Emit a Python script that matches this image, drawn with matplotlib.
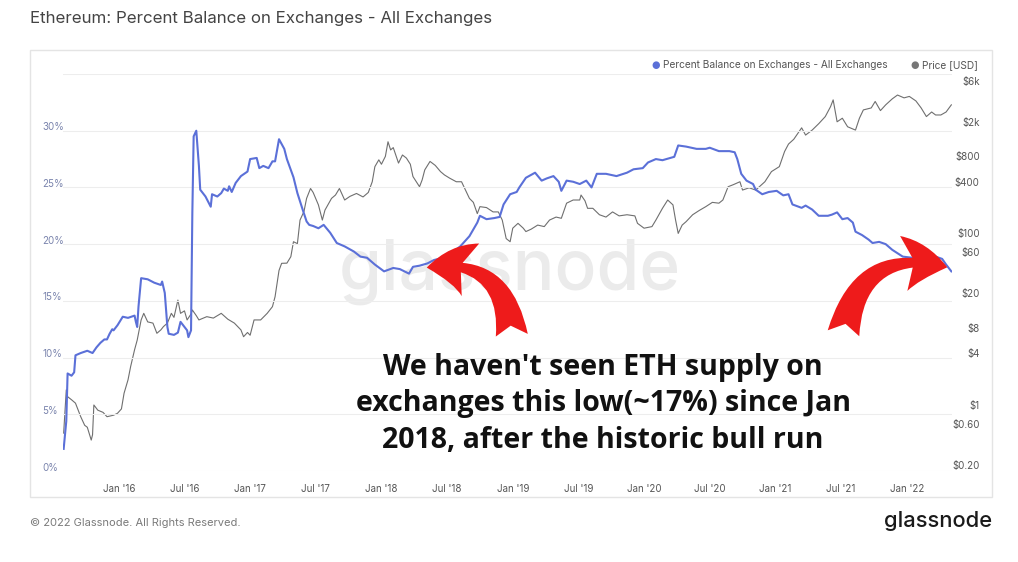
import matplotlib
matplotlib.use("Agg")
import matplotlib.pyplot as plt
from matplotlib.patches import FancyArrowPatch, Rectangle
import matplotlib.transforms as mtransforms

# ---------------- data (decimal years) ----------------
pct_t = [2015.58, 2015.60, 2015.61, 2015.64, 2015.66, 2015.67, 2015.71, 2015.76, 2015.80, 2015.83,
         2015.86, 2015.89, 2015.91, 2015.93, 2015.95, 2015.96, 2015.99, 2016.03, 2016.07, 2016.12,
         2016.13, 2016.14, 2016.15, 2016.17, 2016.22, 2016.27, 2016.32, 2016.33, 2016.35, 2016.37,
         2016.38, 2016.42, 2016.45, 2016.47, 2016.50, 2016.52, 2016.53, 2016.55, 2016.56, 2016.57,
         2016.59, 2016.61, 2016.62, 2016.66, 2016.70, 2016.71, 2016.75, 2016.78, 2016.80, 2016.83,
         2016.84, 2016.86, 2016.89, 2016.93, 2016.98, 2017.00, 2017.05, 2017.07, 2017.10, 2017.14,
         2017.17, 2017.19, 2017.22, 2017.26, 2017.28, 2017.32, 2017.33, 2017.36, 2017.40, 2017.43,
         2017.45, 2017.48, 2017.52, 2017.56, 2017.61, 2017.66, 2017.72, 2017.79, 2017.84, 2017.89,
         2017.95, 2018.02, 2018.09, 2018.14, 2018.21, 2018.24, 2018.29, 2018.35, 2018.40, 2018.47,
         2018.52, 2018.60, 2018.67, 2018.73, 2018.75, 2018.80, 2018.86, 2018.90, 2018.93, 2018.98,
         2019.03, 2019.05, 2019.10, 2019.17, 2019.22, 2019.26, 2019.31, 2019.35, 2019.37, 2019.41,
         2019.46, 2019.51, 2019.56, 2019.60, 2019.64, 2019.71, 2019.79, 2019.87, 2019.92, 2019.99,
         2020.03, 2020.09, 2020.14, 2020.23, 2020.26, 2020.32, 2020.40, 2020.47, 2020.50, 2020.57,
         2020.65, 2020.69, 2020.71, 2020.74, 2020.78, 2020.83, 2020.85, 2020.90, 2020.95, 2021.01,
         2021.06, 2021.10, 2021.13, 2021.20, 2021.23, 2021.28, 2021.33, 2021.40, 2021.43, 2021.47,
         2021.51, 2021.55, 2021.59, 2021.61, 2021.66, 2021.71, 2021.74, 2021.79, 2021.84, 2021.89,
         2021.97, 2022.04, 2022.15, 2022.22, 2022.27, 2022.30, 2022.34]
pct_v = [1.95, 4.4, 8.6, 8.4, 8.7, 10.2, 10.4, 10.6, 10.4, 10.9,
         11.3, 11.6, 11.6, 12.1, 12.5, 12.4, 12.85, 13.6, 13.5, 13.7,
         13.15, 12.7, 14.5, 17.0, 16.9, 16.6, 16.4, 16.7, 15.7, 12.7,
         12.1, 12.0, 12.2, 13.15, 12.7, 12.4, 11.8, 12.4, 22.8, 29.5,
         30.0, 26.9, 24.8, 24.2, 23.3, 24.4, 24.2, 24.5, 24.9, 24.7,
         25.1, 24.6, 25.4, 26.0, 26.4, 27.5, 27.6, 26.7, 26.9, 26.7,
         27.3, 27.3, 29.25, 28.4, 27.5, 26.2, 25.9, 24.5, 23.05, 22.0,
         21.7, 21.6, 21.4, 21.7, 21.0, 20.1, 19.8, 19.35, 18.9, 18.8,
         18.2, 17.6, 17.9, 17.8, 17.4, 18.0, 18.1, 18.3, 18.6, 18.8,
         19.1, 19.8, 20.7, 21.9, 22.5, 22.2, 22.3, 22.4, 23.5, 24.4,
         24.6, 25.0, 25.85, 26.3, 25.6, 25.8, 26.0, 25.5, 24.7, 25.6,
         25.5, 25.3, 25.6, 25.0, 26.2, 26.2, 26.0, 26.3, 26.6, 26.7,
         27.2, 27.5, 27.4, 27.7, 28.7, 28.6, 28.4, 28.4, 28.5, 28.2,
         28.2, 28.1, 27.5, 26.2, 25.6, 25.3, 24.8, 24.4, 24.6, 24.7,
         24.3, 24.4, 23.5, 23.2, 23.4, 23.05, 22.5, 22.5, 22.6, 22.8,
         22.2, 22.3, 21.9, 21.1, 20.8, 20.4, 20.1, 20.2, 20.0, 19.5,
         18.9, 18.8, 18.6, 18.9, 18.7, 18.2, 17.6]

price_t = [2015.58, 2015.60, 2015.61, 2015.64, 2015.67, 2015.71, 2015.74, 2015.76, 2015.79, 2015.80,
           2015.81, 2015.84, 2015.88, 2015.91, 2015.96, 2015.99, 2016.02, 2016.04, 2016.07, 2016.09,
           2016.12, 2016.14, 2016.17, 2016.19, 2016.22, 2016.26, 2016.29, 2016.32, 2016.34, 2016.37,
           2016.40, 2016.42, 2016.45, 2016.47, 2016.50, 2016.52, 2016.55, 2016.56, 2016.59, 2016.61,
           2016.67, 2016.72, 2016.78, 2016.83, 2016.88, 2016.93, 2016.95, 2016.98, 2017.00, 2017.03,
           2017.08, 2017.13, 2017.17, 2017.19, 2017.22, 2017.24, 2017.28, 2017.31, 2017.33, 2017.36,
           2017.38, 2017.41, 2017.43, 2017.46, 2017.48, 2017.52, 2017.55, 2017.57, 2017.60, 2017.62,
           2017.65, 2017.68, 2017.72, 2017.76, 2017.81, 2017.86, 2017.90, 2017.93, 2017.95, 2017.98,
           2018.00, 2018.03, 2018.05, 2018.07, 2018.09, 2018.13, 2018.16, 2018.19, 2018.22, 2018.24,
           2018.29, 2018.31, 2018.33, 2018.37, 2018.41, 2018.45, 2018.48, 2018.52, 2018.57, 2018.61,
           2018.64, 2018.67, 2018.70, 2018.73, 2018.75, 2018.80, 2018.85, 2018.89, 2018.92, 2018.95,
           2018.98, 2019.00, 2019.04, 2019.08, 2019.10, 2019.14, 2019.19, 2019.24, 2019.28, 2019.33,
           2019.37, 2019.41, 2019.46, 2019.51, 2019.52, 2019.55, 2019.57, 2019.61, 2019.66, 2019.71,
           2019.76, 2019.81, 2019.87, 2019.93, 2019.95, 2020.00, 2020.06, 2020.09, 2020.14, 2020.18,
           2020.22, 2020.24, 2020.26, 2020.29, 2020.32, 2020.37, 2020.42, 2020.47, 2020.52, 2020.57,
           2020.60, 2020.64, 2020.68, 2020.73, 2020.75, 2020.80, 2020.85, 2020.92, 2020.97, 2021.03,
           2021.07, 2021.10, 2021.14, 2021.20, 2021.23, 2021.28, 2021.33, 2021.38, 2021.42, 2021.44,
           2021.47, 2021.51, 2021.55, 2021.61, 2021.64, 2021.67, 2021.73, 2021.76, 2021.80, 2021.84,
           2021.89, 2021.93, 2021.98, 2022.02, 2022.07, 2022.11, 2022.15, 2022.19, 2022.22, 2022.26,
           2022.30, 2022.34]
price_v = [0.47, 1.5, 1.25, 1.15, 1.05, 0.73, 0.58, 0.55, 0.39, 0.45,
           1.0, 0.87, 0.82, 0.73, 0.76, 0.80, 0.9, 1.37, 1.96, 2.8,
           4.4, 5.7, 9.8, 11.7, 9.3, 9.0, 6.85, 7.5, 8.2, 9.0,
           11.7, 10.5, 16.7, 11.7, 12.5, 9.8, 11.5, 12.8, 11.0, 9.8,
           10.7, 10.3, 11.7, 10.0, 9.0, 7.5, 6.25, 7.0, 6.5, 9.8,
           9.8, 11.7, 14, 18.3, 37, 44.8, 45, 53.5, 80, 76,
           143, 180, 256, 334, 300, 215, 143, 187, 225, 256,
           280, 334, 245, 270, 292, 266, 300, 400, 600, 720,
           640, 790, 1170, 940, 1000, 660, 820, 755, 640, 460,
           350, 420, 550, 690, 620, 525, 480, 440, 400, 400,
           320, 256, 230, 170, 205, 200, 178, 178, 143, 87,
           80, 115, 131, 115, 105, 112, 125, 120, 143, 155,
           150, 225, 245, 245, 280, 240, 196, 196, 165, 155,
           178, 160, 165, 160, 131, 115, 120, 143, 196, 245,
           215, 143, 100, 125, 137, 165, 185, 205, 230, 225,
           245, 350, 370, 400, 320, 340, 320, 400, 525, 600,
           900, 1100, 1250, 1700, 1400, 1600, 1900, 2300, 3000, 3600,
           2000, 2200, 1750, 1600, 2200, 2750, 2900, 3450, 2700, 3150,
           3700, 4100, 3800, 3950, 3500, 2900, 2300, 2600, 2400, 2400,
           2600, 3150]

x_ticks = [2016.0, 2016.5, 2017.0, 2017.5, 2018.0, 2018.5, 2019.0, 2019.5,
           2020.0, 2020.5, 2021.0, 2021.5, 2022.0]
x_labels = ["Jan '16", "Jul '16", "Jan '17", "Jul '17", "Jan '18", "Jul '18", "Jan '19",
            "Jul '19", "Jan '20", "Jul '20", "Jan '21", "Jul '21", "Jan '22"]
pct_ticks = [0, 5, 10, 15, 20, 25, 30]
pct_labels = ["0%", "5%", "10%", "15%", "20%", "25%", "30%"]
price_ticks = [0.2, 0.6, 1, 4, 8, 20, 60, 100, 400, 800, 2000, 6000]
price_labels = ["$0.20", "$0.60", "$1", "$4", "$8", "$20", "$60", "$100", "$400", "$800", "$2k", "$6k"]

title = "Ethereum: Percent Balance on Exchanges - All Exchanges"
note = "We haven't seen ETH supply on\nexchanges this low(~17%) since Jan\n2018, after the historic bull run"

# ---------------- figure ----------------
W, H = 1018, 562
fig = plt.figure(figsize=(W / 100, H / 100), dpi=100)
fig.patch.set_facecolor("white")
FONT = "Inter"

def fx(px):
    return px / W

def fy(py):
    return 1 - py / H

BLUE = "#5b70d8"
GREY = "#6f6f6f"

# frame
fig.add_artist(Rectangle((fx(29.5), fy(496.5)), fx(991.5) - fx(29.5), fy(49.5) - fy(496.5),
                         transform=fig.transFigure, fill=False, edgecolor="#e4e4e4", lw=1.0, zorder=0))

ax_left, ax_right, ax_top, ax_bot = 63, 952, 74, 471
ax = fig.add_axes([fx(ax_left), fy(ax_bot), fx(ax_right) - fx(ax_left), fy(ax_top) - fy(ax_bot)])
ax2 = ax.twinx()
ax.set_zorder(2)
ax2.set_zorder(1)
ax.patch.set_visible(False)
ax2.patch.set_visible(False)

# percent series
ax.plot(pct_t, pct_v, color=BLUE, lw=1.5, solid_joinstyle="round", zorder=3)
ax.set_ylim(0, 35)
ax.set_xlim(2015.575, 2022.345)
ax.set_yticks(pct_ticks + [35])
ax.set_yticklabels(pct_labels + [""])
ax.grid(axis="y", color="#ededed", lw=0.8, zorder=0)
ax.tick_params(axis="y", length=0, pad=15, labelsize=7, labelcolor="#7a84ad")
for lab in ax.get_yticklabels():
    lab.set_horizontalalignment("left")
    lab.set_fontfamily(FONT)
    lab.set_transform(lab.get_transform() + mtransforms.ScaledTranslation(0, 3.2 / 72, fig.dpi_scale_trans))

ax.set_xticks(x_ticks)
ax.set_xticklabels(x_labels)
ax.tick_params(axis="x", length=0, pad=9, labelsize=7, labelcolor="#555555")
for lab in ax.get_xticklabels():
    lab.set_fontfamily(FONT)

for s in ax.spines.values():
    s.set_visible(False)
for s in ax2.spines.values():
    s.set_visible(False)

# price series
ax2.plot(price_t, price_v, color=GREY, lw=0.8, zorder=2)
ax2.set_yscale("log")
ax2.set_ylim(0.170, 7210)
ax2.set_yticks(price_ticks)
ax2.set_yticklabels(price_labels)
ax2.yaxis.set_minor_locator(matplotlib.ticker.NullLocator())
ax2.tick_params(axis="y", length=0, pad=20, labelsize=7, labelcolor="#555555")
for lab in ax2.get_yticklabels():
    lab.set_horizontalalignment("right")
    lab.set_fontfamily(FONT)

# watermark
fig.text(fx(510), fy(272), "glassnode", fontsize=50, color="#ebebeb", ha="center", va="center",
         family=FONT, fontweight="medium", zorder=0.5)

# title & footer
fig.text(fx(30), fy(18), title, fontsize=12.2, color="#444444", ha="left", va="center", family=FONT)
fig.text(fx(30), fy(523), "\u00a9 2022 Glassnode. All Rights Reserved.", fontsize=8, color="#7a7a7a",
         ha="left", va="center", family=FONT)
fig.text(fx(992), fy(521), "glassnode", fontsize=15.8, color="#1a1a1a", ha="right", va="center",
         family=FONT, fontweight="medium")

# legend
fig.text(fx(656), fy(65), "\u25cf", fontsize=7, color=BLUE, ha="center", va="center", family="DejaVu Sans")
fig.text(fx(663), fy(65), "Percent Balance on Exchanges - All Exchanges", fontsize=7.3, color="#555555",
         ha="left", va="center", family=FONT)
fig.text(fx(915), fy(65), "\u25cf", fontsize=7, color="#777777", ha="center", va="center", family="DejaVu Sans")
fig.text(fx(922), fy(65), "Price [USD]", fontsize=7.3, color="#555555", ha="left", va="center", family=FONT)

# annotation text
fig.text(fx(603), fy(404), note, fontsize=20.5, fontweight="bold", color="#111111", ha="center", va="center",
         family="Open Sans", linespacing=1.33, zorder=10)

# red arrows
RED = "#ee1b1b"
style = "fancy,head_length=0.75,head_width=0.95,tail_width=0.55"
a1 = FancyArrowPatch((fx(512), fy(338)), (fx(424), fy(268)), transform=fig.transFigure,
                     connectionstyle="arc3,rad=0.55", arrowstyle=style, mutation_scale=42,
                     color=RED, lw=0, zorder=10)
a2 = FancyArrowPatch((fx(843), fy(336)), (fx(950), fy(268)), transform=fig.transFigure,
                     connectionstyle="arc3,rad=-0.55", arrowstyle=style, mutation_scale=42,
                     color=RED, lw=0, zorder=10)
fig.add_artist(a1)
fig.add_artist(a2)

fig.savefig("out.png", dpi=100, facecolor="white")
